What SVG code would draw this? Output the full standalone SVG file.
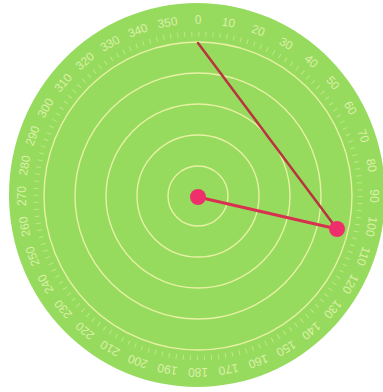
<svg xmlns="http://www.w3.org/2000/svg" width="383" height="392" viewBox="0 0 383 392">
<style>
.ring{fill:none;stroke:#e8f0a4;stroke-width:1.4}
.lbl{font-family:"Liberation Sans",Arial,sans-serif;font-size:12px;fill:#dcf0a8;text-anchor:middle}
.dot{fill:#ef2f6c}
</style>
<rect width="383" height="392" fill="#ffffff"/>
<g id="disk">
<ellipse cx="197" cy="195" rx="188" ry="192" fill="#96db5e"/>
</g>
<g id="rings">
<circle class="ring" cx="198" cy="196" r="30"/>
<circle class="ring" cx="198" cy="196" r="61"/>
<circle class="ring" cx="198" cy="196" r="92"/>
<circle class="ring" cx="198" cy="196" r="123"/>
<circle class="ring" cx="198" cy="196" r="154"/>
</g>
<g id="ticks">
<circle cx="198" cy="196" r="162" fill="none" stroke="#cdeb98" stroke-width="5" stroke-dasharray="1 6.069" opacity="0.75"/>
</g>
<g id="labels">
<text class="lbl" x="198" y="24" transform="rotate(0 198 196)">0</text>
<text class="lbl" x="198" y="24" transform="rotate(10 198 196)">10</text>
<text class="lbl" x="198" y="24" transform="rotate(20 198 196)">20</text>
<text class="lbl" x="198" y="24" transform="rotate(30 198 196)">30</text>
<text class="lbl" x="198" y="24" transform="rotate(40 198 196)">40</text>
<text class="lbl" x="198" y="24" transform="rotate(50 198 196)">50</text>
<text class="lbl" x="198" y="24" transform="rotate(60 198 196)">60</text>
<text class="lbl" x="198" y="24" transform="rotate(70 198 196)">70</text>
<text class="lbl" x="198" y="24" transform="rotate(80 198 196)">80</text>
<text class="lbl" x="198" y="24" transform="rotate(90 198 196)">90</text>
<text class="lbl" x="198" y="24" transform="rotate(100 198 196)">100</text>
<text class="lbl" x="198" y="24" transform="rotate(110 198 196)">110</text>
<text class="lbl" x="198" y="24" transform="rotate(120 198 196)">120</text>
<text class="lbl" x="198" y="24" transform="rotate(130 198 196)">130</text>
<text class="lbl" x="198" y="24" transform="rotate(140 198 196)">140</text>
<text class="lbl" x="198" y="24" transform="rotate(150 198 196)">150</text>
<text class="lbl" x="198" y="24" transform="rotate(160 198 196)">160</text>
<text class="lbl" x="198" y="24" transform="rotate(170 198 196)">170</text>
<text class="lbl" x="198" y="24" transform="rotate(180 198 196)">180</text>
<text class="lbl" x="198" y="24" transform="rotate(190 198 196)">190</text>
<text class="lbl" x="198" y="24" transform="rotate(200 198 196)">200</text>
<text class="lbl" x="198" y="24" transform="rotate(210 198 196)">210</text>
<text class="lbl" x="198" y="24" transform="rotate(220 198 196)">220</text>
<text class="lbl" x="198" y="24" transform="rotate(230 198 196)">230</text>
<text class="lbl" x="198" y="24" transform="rotate(240 198 196)">240</text>
<text class="lbl" x="198" y="24" transform="rotate(250 198 196)">250</text>
<text class="lbl" x="198" y="24" transform="rotate(260 198 196)">260</text>
<text class="lbl" x="198" y="24" transform="rotate(270 198 196)">270</text>
<text class="lbl" x="198" y="24" transform="rotate(280 198 196)">280</text>
<text class="lbl" x="198" y="24" transform="rotate(290 198 196)">290</text>
<text class="lbl" x="198" y="24" transform="rotate(300 198 196)">300</text>
<text class="lbl" x="198" y="24" transform="rotate(310 198 196)">310</text>
<text class="lbl" x="198" y="24" transform="rotate(320 198 196)">320</text>
<text class="lbl" x="198" y="24" transform="rotate(330 198 196)">330</text>
<text class="lbl" x="198" y="24" transform="rotate(340 198 196)">340</text>
<text class="lbl" x="198" y="24" transform="rotate(350 198 196)">350</text>
</g>
<g id="connectors">
<line x1="198" y1="43" x2="337" y2="229" stroke="#b9343e" stroke-width="2.5" stroke-linecap="round"/>
<line x1="198" y1="197" x2="337" y2="229" stroke="#d8304f" stroke-width="3" stroke-linecap="round"/>
</g>
<g id="center-point">
<circle class="dot" cx="198" cy="197" r="8"/>
</g>
<g id="target-point">
<circle class="dot" cx="337" cy="229" r="8"/>
</g>
</svg>
